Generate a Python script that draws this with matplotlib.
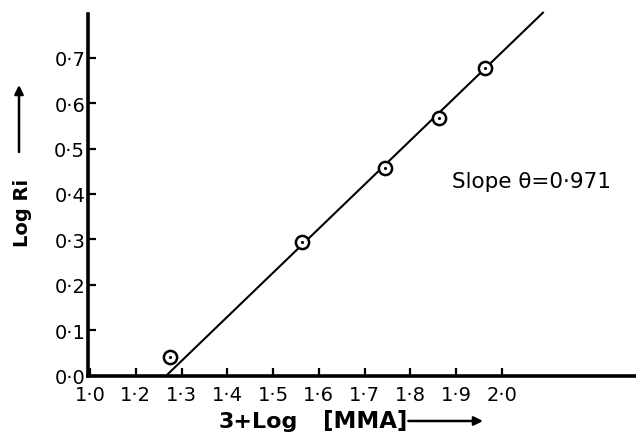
import numpy as np
import matplotlib
matplotlib.use('Agg')
import matplotlib.pyplot as plt

plt.rcParams['font.family'] = ['DejaVu Sans']

# measured points: 3 + log[MMA] against log Ri
log_mma = [1.274, 1.564, 1.744, 1.863, 1.963]
log_ri = [0.040, 0.295, 0.458, 0.567, 0.678]

# least squares line through the points
slope = 0.971
x_intercept = 1.267
x_line_end = 2.09

# the x axis is broken: the origin carries the 1.0 label
x_ticks = [1.1, 1.2, 1.3, 1.4, 1.5, 1.6, 1.7, 1.8, 1.9, 2.0]
x_tick_labels = ['1·0', '1·2', '1·3', '1·4', '1·5', '1·6', '1·7', '1·8', '1·9', '2·0']
y_ticks = [0.0, 0.1, 0.2, 0.3, 0.4, 0.5, 0.6, 0.7]
y_tick_labels = ['0·0', '0·1', '0·2', '0·3', '0·4', '0·5', '0·6', '0·7']


def main():
    W, H = 636, 435
    fig = plt.figure(figsize=(W / 100, H / 100), dpi=100)
    left, bottom, top = 88, 376.5, 15
    ax = fig.add_axes([left / W, (H - bottom) / H, (W - left) / W, (bottom - top) / H])

    px_per_unit_x = 457.5
    x0 = 1.1 - 2.0 / px_per_unit_x
    ax.set_xlim(x0, x0 + (W - left) / px_per_unit_x)
    ax.set_ylim(0, (bottom - top) / 454.0)

    for side in ['top', 'right']:
        ax.spines[side].set_visible(False)
    for side in ['left', 'bottom']:
        ax.spines[side].set_linewidth(2.6)

    ax.set_xticks(x_ticks)
    ax.set_xticklabels(x_tick_labels)
    ax.set_yticks(y_ticks)
    ax.set_yticklabels(y_tick_labels)
    ax.tick_params(axis='both', direction='in', length=6, width=1.6, labelsize=14)
    ax.tick_params(axis='x', pad=6.5)
    ax.tick_params(axis='y', pad=2)

    # fitted line
    xl = np.array([x_intercept, x_line_end])
    yl = slope * (xl - x_intercept)
    ax.plot(xl, yl, color='black', lw=1.5, clip_on=False, zorder=2)

    # open circles with a centre dot
    ax.plot(log_mma, log_ri, 'o', ms=9.5, mfc='white', mec='black', mew=1.8, zorder=3)
    ax.plot(log_mma, log_ri, '.', ms=2.5, color='black', zorder=4)

    ax.text(452 / W, (H - 182) / H, 'Slope θ=0·971', transform=fig.transFigure,
            fontsize=15.5, va='center', ha='left')

    # axis titles with their arrows
    fig.text(219 / W, (H - 428) / H, '3+Log', fontsize=16, fontweight='bold',
             ha='left', va='baseline')
    unit = fig.text(323 / W, (H - 428) / H, '[MMA]', fontsize=16.5, fontweight='bold',
                    ha='left', va='baseline')
    fig.text(22 / W, (H - 213) / H, 'Log Ri', fontsize=14, fontweight='bold',
             rotation=90, ha='center', va='center')

    fig.canvas.draw()
    bb = unit.get_window_extent()
    ax.annotate('', xy=(483 / W, (H - 422) / H), xytext=((bb.x1 + 1) / W, (H - 422) / H),
                xycoords='figure fraction',
                arrowprops=dict(arrowstyle='-|>', color='black', lw=1.8, mutation_scale=13,
                                shrinkA=0, shrinkB=0))
    ax.annotate('', xy=(19 / W, (H - 86) / H), xytext=(19 / W, (H - 153) / H),
                xycoords='figure fraction',
                arrowprops=dict(arrowstyle='-|>', color='black', lw=1.8, mutation_scale=13,
                                shrinkA=0, shrinkB=0))

    fig.savefig('out.png', dpi=100)


if __name__ == '__main__':
    main()
